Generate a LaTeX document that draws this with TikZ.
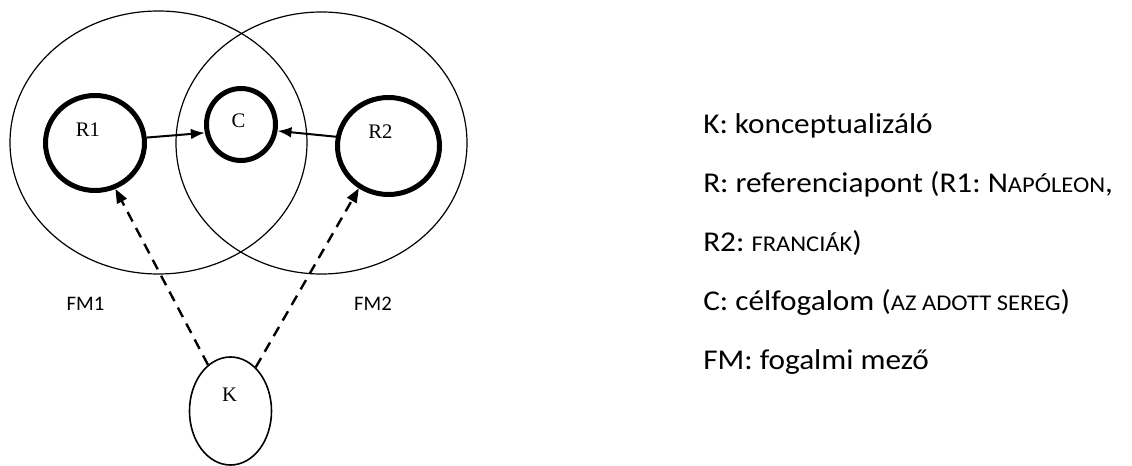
\documentclass[tikz,border=0pt]{standalone}
\usepackage{fontspec}
\usepackage{graphicx}
\setmainfont{Carlito}
\newfontfamily\tms{Liberation Serif}
\usetikzlibrary{shapes.geometric,arrows.meta}
\frenchspacing
\newcommand\smc[1]{{\fontsize{16.9pt}{18pt}\selectfont #1}}
\newcommand\wide[1]{\scalebox{1.09}[1]{#1}}
\begin{document}
\begin{tikzpicture}[x=0.75pt,y=-0.75pt,
  field/.style={ellipse,draw,line width=0.9pt,inner sep=0pt},
  refring/.style={ellipse,draw,line width=3.75pt,inner sep=0pt},
  person/.style={ellipse,draw,line width=1.2pt,inner sep=0pt},
  circlab/.style={anchor=base,inner sep=0pt,font=\tms\fontsize{15.5pt}{17pt}\selectfont},
  fmlab/.style={anchor=base,inner sep=0pt,font=\fontsize{15.5pt}{17pt}\selectfont},
  legend/.style={anchor=base west,inner sep=0pt,font=\fontsize{21.5pt}{24pt}\selectfont},
  solidarr/.style={-{Latex[length=10.5pt,width=8pt]},line width=1.5pt},
  dasharr/.style={-{Triangle[length=10.5pt,width=8pt]},line width=1.8pt,dash pattern=on 8pt off 5.5pt}]
\useasboundingbox (0,0) rectangle (1132,466);

% conceptual fields
\node[field,minimum width=222.75pt,minimum height=197.25pt] (FMa) at (158.5,142.5) {};
\node[field,minimum width=218.25pt,minimum height=196.5pt] (FMb) at (321.5,143) {};

% reference points and target
\node[refring,minimum width=74.25pt,minimum height=71.25pt] (R1) at (95,143) {};
\node[refring,minimum width=51.75pt,minimum height=54pt] (C) at (241,124.5) {};
\node[refring,minimum width=76.5pt,minimum height=72.75pt] (R2) at (388.5,146) {};

% conceptualizer
\node[person,minimum width=61.5pt,minimum height=81pt] (K) at (230.5,411) {};

% labels inside the shapes
\node[circlab] (R1t) at (88,137) {R1};
\node[circlab] (Ct) at (238.5,128) {C};
\node[circlab] (R2t) at (380.5,139) {R2};
\node[circlab] (Kt) at (229.5,402) {K};
\node[fmlab] (FM1t) at (85.5,311) {FM1};
\node[fmlab] (FM2t) at (373,311) {FM2};

% connectors
\draw[solidarr] (R1.6) -- (C.193);
\draw[solidarr] (R2.170) -- (C.-10);
\draw[dasharr] (K.116) -- (R1.-66);
\draw[dasharr] (K.60) -- (R2.235);

% legend
\node[legend] (L1) at (703,134) {\wide{K: konceptualizáló}};
\node[legend] (L2) at (703,193) {\wide{R: referenciapont (R1: N\smc{APÓLEON},}};
\node[legend] (L3) at (703,252) {\wide{R2: \smc{FRANCIÁK})}};
\node[legend] (L4) at (703,311) {\wide{C: célfogalom (\smc{AZ ADOTT SEREG})}};
\node[legend] (L5) at (703,370) {\wide{FM: fogalmi mező}};
\end{tikzpicture}
\end{document}
